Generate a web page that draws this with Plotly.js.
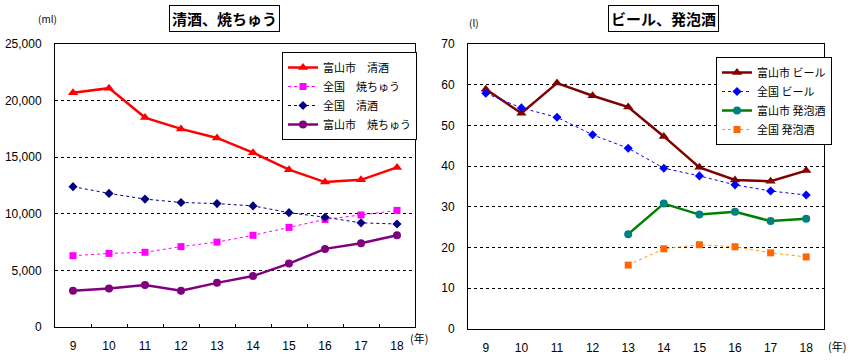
<!DOCTYPE html>
<html><head><meta charset="utf-8">
<script src="https://cdn.plot.ly/plotly-3.0.1.min.js"></script>
<style>body{margin:0;background:#fff}#c{width:857px;height:363px}</style>
</head><body><div id="c"></div>
<script>
const years = ['9','10','11','12','13','14','15','16','17','18'];
// left chart (ml)
const toyamaSake   = [20700, 21100, 18500, 17500, 16700, 15400, 13900, 12800, 13000, 14100];
const zenkokuShochu= [6300, 6500, 6600, 7100, 7500, 8100, 8800, 9500, 9900, 10300];
const zenkokuSake  = [12400, 11800, 11300, 11000, 10900, 10700, 10100, 9700, 9200, 9100];
const toyamaShochu = [3200, 3400, 3700, 3200, 3900, 4500, 5600, 6900, 7400, 8100];
// right chart (l)
const toyamaBeer    = [58.9, 53.0, 60.4, 57.3, 54.5, 47.3, 39.7, 36.6, 36.3, 38.9];
const zenkokuBeer   = [57.9, 54.3, 52.0, 47.7, 44.4, 39.5, 37.6, 35.4, 33.9, 32.9];
const toyamaHappo   = [null, null, null, null, 23.3, 30.8, 28.1, 28.8, 26.5, 27.1];
const zenkokuHappo  = [null, null, null, null, 15.7, 19.7, 20.7, 20.2, 18.7, 17.7];

const F = 'Liberation Sans, Arial, sans-serif';
const J = 'Noto Sans CJK JP, sans-serif';

const traces = [
 {x:years,y:toyamaSake,name:'富山市　清酒',mode:'lines+markers',line:{color:'#FF0000',width:2.5},marker:{symbol:'triangle-up',size:9,color:'#FF0000'},xaxis:'x',yaxis:'y',legend:'legend'},
 {x:years,y:zenkokuShochu,name:'全国　焼ちゅう',mode:'lines+markers',line:{color:'#FF00FF',width:1,dash:'dot'},marker:{symbol:'square',size:7,color:'#FF00FF'},xaxis:'x',yaxis:'y',legend:'legend'},
 {x:years,y:zenkokuSake,name:'全国　清酒',mode:'lines+markers',line:{color:'#000080',width:1,dash:'dot'},marker:{symbol:'diamond',size:7,color:'#000080'},xaxis:'x',yaxis:'y',legend:'legend'},
 {x:years,y:toyamaShochu,name:'富山市　焼ちゅう',mode:'lines+markers',line:{color:'#800080',width:2.5},marker:{symbol:'circle',size:8,color:'#800080'},xaxis:'x',yaxis:'y',legend:'legend'},
 {x:years,y:toyamaBeer,name:'富山市 ビール',mode:'lines+markers',line:{color:'#800000',width:2.5},marker:{symbol:'triangle-up',size:9,color:'#800000'},xaxis:'x2',yaxis:'y2',legend:'legend2'},
 {x:years,y:zenkokuBeer,name:'全国 ビール',mode:'lines+markers',line:{color:'#0000FF',width:1,dash:'dot'},marker:{symbol:'diamond',size:7,color:'#0000FF'},xaxis:'x2',yaxis:'y2',legend:'legend2'},
 {x:years,y:toyamaHappo,name:'富山市 発泡酒',mode:'lines+markers',line:{color:'#008000',width:2.5},marker:{symbol:'circle',size:8,color:'#008080'},xaxis:'x2',yaxis:'y2',legend:'legend2'},
 {x:years,y:zenkokuHappo,name:'全国 発泡酒',mode:'lines+markers',line:{color:'#FF9900',width:1,dash:'dot'},marker:{symbol:'square',size:7,color:'#FF6600'},xaxis:'x2',yaxis:'y2',legend:'legend2'}
];

const xbase = {type:'category',range:[-0.5,9.5],showline:true,linecolor:'#000',linewidth:1,mirror:true,showgrid:false,zeroline:false,
  tickfont:{family:F,size:12,color:'#000'},ticklabelstandoff:8,fixedrange:true};
const ybase = {showline:true,linecolor:'#000',linewidth:1,mirror:true,showgrid:true,gridcolor:'#000',griddash:'3px,3px',gridwidth:1,
  zeroline:false,ticks:'',tickfont:{family:F,size:12,color:'#000'},ticklabelstandoff:10};

const layout = {
 width:857,height:363,margin:{l:0,r:0,t:0,b:0},paper_bgcolor:'#fff',plot_bgcolor:'#fff',showlegend:true,
 xaxis:Object.assign({},xbase,{domain:[55/857,415/857],anchor:'y',ticks:'inside',ticklen:3,tickson:'boundaries',tickcolor:'#000'}),
 yaxis:Object.assign({},ybase,{domain:[1-327/363,1-44/363],anchor:'x',range:[0,25000],dtick:5000,tickformat:',d'}),
 xaxis2:Object.assign({},xbase,{domain:[468/857,824/857],anchor:'y2',ticks:''}),
 yaxis2:Object.assign({},ybase,{domain:[1-329/363,1-44/363],anchor:'x2',range:[0,70],dtick:10}),
 legend:{x:282/857,y:1-52/363,xanchor:'left',yanchor:'top',bgcolor:'#fff',bordercolor:'#000',borderwidth:1,
   font:{family:J,size:11,color:'#000'},tracegroupgap:0,itemwidth:30},
 legend2:{x:716/857,y:1-57/363,xanchor:'left',yanchor:'top',bgcolor:'#fff',bordercolor:'#000',borderwidth:1,
   font:{family:J,size:11,color:'#000'},tracegroupgap:0,itemwidth:30},
 annotations:[
  {xref:'paper',yref:'paper',x:224/857,y:1-18/363,xanchor:'center',yanchor:'middle',text:'<b>清酒、焼ちゅう</b>',showarrow:false,font:{family:J,size:15,color:'#000'},bordercolor:'#000',borderwidth:1,borderpad:2,bgcolor:'#fff'},
  {xref:'paper',yref:'paper',x:663/857,y:1-18/363,xanchor:'center',yanchor:'middle',text:'<b>ビール、発泡酒</b>',showarrow:false,font:{family:J,size:15,color:'#000'},bordercolor:'#000',borderwidth:1,borderpad:2,bgcolor:'#fff'},
  {xref:'paper',yref:'paper',x:47/857,y:1-18/363,xanchor:'center',yanchor:'middle',text:'(ml)',showarrow:false,font:{family:J,size:10,color:'#000'}},
  {xref:'paper',yref:'paper',x:474/857,y:1-23/363,xanchor:'center',yanchor:'middle',text:'(l)',showarrow:false,font:{family:J,size:10,color:'#000'}},
  {xref:'paper',yref:'paper',x:419/857,y:1-338/363,xanchor:'center',yanchor:'middle',text:'(年)',showarrow:false,font:{family:J,size:11,color:'#000'}},
  {xref:'paper',yref:'paper',x:837/857,y:1-346/363,xanchor:'center',yanchor:'middle',text:'(年)',showarrow:false,font:{family:J,size:11,color:'#000'}}
 ]
};
Plotly.newPlot('c',traces,layout,{staticPlot:true,displayModeBar:false});
</script></body></html>
